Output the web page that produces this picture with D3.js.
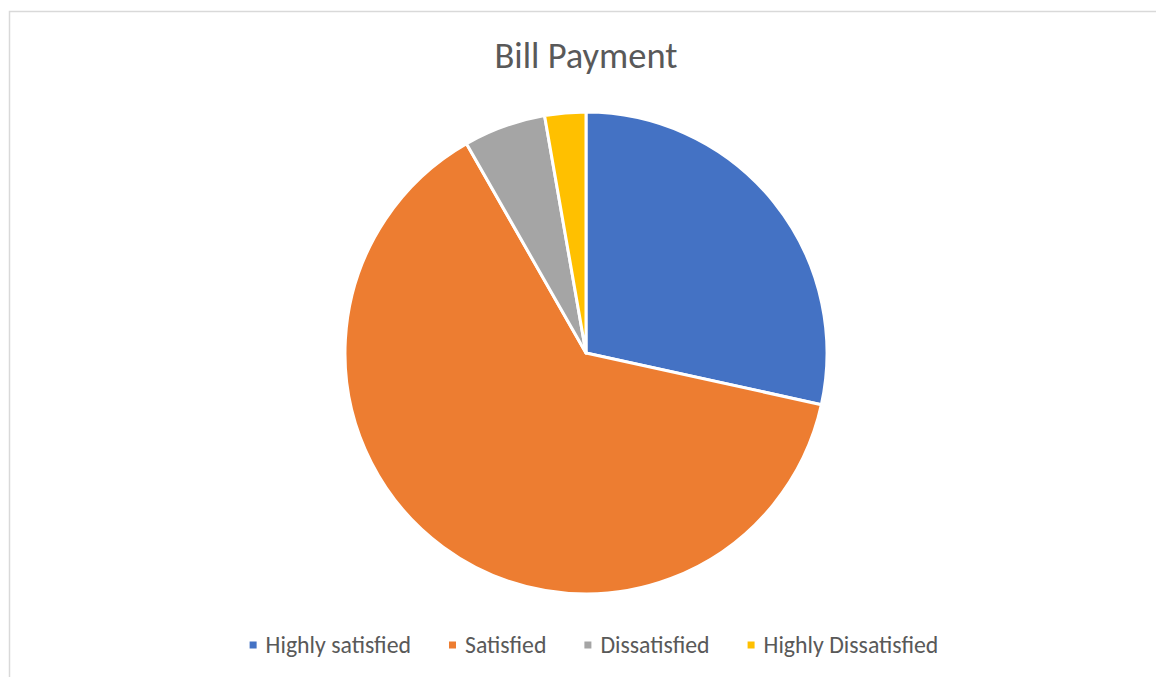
<!DOCTYPE html>
<html>
<head>
<meta charset="utf-8">
<script src="https://cdn.jsdelivr.net/npm/d3@7"></script>
<style>
  html, body { margin: 0; padding: 0; background: #fff; }
  svg { display: block; }
</style>
</head>
<body>
<svg id="chart" width="1156" height="677"></svg>
<script>
// Survey responses for bill payment satisfaction
const categories = ["Highly satisfied", "Satisfied", "Dissatisfied", "Highly Dissatisfied"];
const responses = [31, 69, 6, 3];
const colors = ["#4472C4", "#ED7D31", "#A5A5A5", "#FFC000"];
const chartTitle = "Bill Payment";

const W = 1156, H = 677;
const svg = d3.select("#chart");
const font = "Calibri, Carlito, 'Open Sans', sans-serif";

// Chart area frame
svg.append("rect")
  .attr("x", 9.5).attr("y", 11.5)
  .attr("width", W + 20).attr("height", H + 20)
  .attr("fill", "#fff")
  .attr("stroke", "#d9d9d9")
  .attr("stroke-width", 1.5);

// Title
svg.append("text")
  .attr("x", 586).attr("y", 68)
  .attr("text-anchor", "middle")
  .attr("font-family", font)
  .attr("font-size", 36.5)
  .attr("fill", "#595959")
  .text(chartTitle);

// Pie
const cx = 586, cy = 353, radius = 241;
const color = d3.scaleOrdinal().domain(categories).range(colors);
const pie = d3.pie().sort(null).value(d => d.value);
const arc = d3.arc().innerRadius(0).outerRadius(radius);
const data = categories.map((c, i) => ({ name: c, value: responses[i] }));

svg.append("g")
  .attr("transform", `translate(${cx},${cy})`)
  .selectAll("path")
  .data(pie(data))
  .join("path")
  .attr("d", arc)
  .attr("fill", d => color(d.data.name))
  .attr("stroke", "#fff")
  .attr("stroke-width", 3)
  .attr("stroke-linejoin", "round");

// Legend
const legend = svg.append("g");
const fs = 23.8, sq = 7, sqGap = 9, itemGap = 38;
const items = legend.selectAll("g")
  .data(categories)
  .join("g");
items.append("rect")
  .attr("width", sq).attr("height", sq)
  .attr("y", -sq / 2)
  .attr("fill", d => color(d));
items.append("text")
  .attr("x", sq + sqGap)
  .attr("dy", "0.35em")
  .attr("font-family", font)
  .attr("font-size", fs)
  .attr("fill", "#595959")
  .text(d => d);

let offset = 0;
const widths = [];
items.each(function () {
  const w = sq + sqGap + this.querySelector("text").getComputedTextLength();
  widths.push(w);
});
const total = d3.sum(widths) + itemGap * (widths.length - 1);
let x0 = 594 - total / 2;
items.attr("transform", (d, i) => {
  const x = x0 + offset;
  offset += widths[i] + itemGap;
  return `translate(${x},645)`;
});
</script>
</body>
</html>
